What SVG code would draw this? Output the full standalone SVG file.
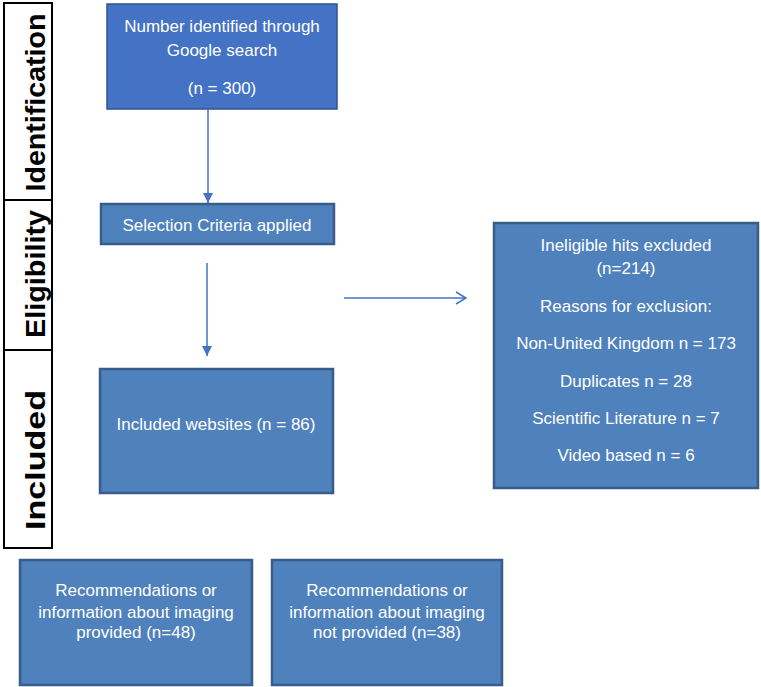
<svg xmlns="http://www.w3.org/2000/svg" width="761" height="687" viewBox="0 0 761 687">
<style>
.box{fill:#4F81BD;stroke:#385D8A;stroke-width:2.5}
.top{fill:#4472C4;stroke:#2F528F;stroke-width:1.5}
.t{font-family:"Liberation Sans",Arial,sans-serif;font-size:17px;fill:#FFFFFF;text-anchor:middle}
.side{fill:#FFFFFF;stroke:#000000;stroke-width:2}
.st{font-family:"Liberation Sans",Arial,sans-serif;font-size:28.5px;font-weight:bold;fill:#000000;text-anchor:middle}
.ln{stroke:#4472C4;stroke-width:1.5;fill:none}
</style>
<defs>
<marker id="tri" viewBox="0 0 10 10" refX="10" refY="5" markerWidth="10" markerHeight="10" markerUnits="userSpaceOnUse" orient="auto">
<path d="M0,0 L10,5 L0,10 Z" fill="#4472C4"/>
</marker>
<marker id="open" viewBox="0 0 12 14" refX="11" refY="7" markerWidth="12" markerHeight="14" markerUnits="userSpaceOnUse" orient="auto">
<path d="M1,1 L11,7 L1,13" fill="none" stroke="#4472C4" stroke-width="1.5"/>
</marker>
</defs>
<g id="stage-identification">
<rect class="side" x="4" y="3" width="48" height="197"/>
<text class="st" transform="translate(45,102.5) rotate(-90)" textLength="178" lengthAdjust="spacingAndGlyphs">Identification</text>
</g>
<g id="stage-eligibility">
<rect class="side" x="4" y="200" width="48" height="150"/>
<text class="st" transform="translate(45,274) rotate(-90)" textLength="128" lengthAdjust="spacingAndGlyphs">Eligibility</text>
</g>
<g id="stage-included">
<rect class="side" x="4" y="350" width="48" height="198"/>
<text class="st" transform="translate(45,460) rotate(-90)" textLength="140" lengthAdjust="spacingAndGlyphs">Included</text>
</g>
<g id="identified">
<rect class="top" x="107" y="4" width="230" height="105"/>
<text class="t" x="222" y="32">Number identified through</text>
<text class="t" x="222" y="56">Google search</text>
<text class="t" x="222" y="94">(n = 300)</text>
</g>
<g id="selection">
<rect class="box" x="101" y="204" width="233" height="40"/>
<text class="t" x="217" y="231">Selection Criteria applied</text>
</g>
<g id="included">
<rect class="box" x="100" y="369" width="233" height="124"/>
<text class="t" x="216" y="430">Included websites (n = 86)</text>
</g>
<g id="excluded">
<rect class="box" x="494" y="223" width="264" height="265"/>
<text class="t" x="626" y="251">Ineligible hits excluded</text>
<text class="t" x="626" y="274">(n=214)</text>
<text class="t" x="626" y="312">Reasons for exclusion:</text>
<text class="t" x="626" y="349">Non-United Kingdom n = 173</text>
<text class="t" x="626" y="387">Duplicates n = 28</text>
<text class="t" x="626" y="424">Scientific Literature n = 7</text>
<text class="t" x="626" y="461">Video based n = 6</text>
</g>
<g id="provided">
<rect class="box" x="20" y="560" width="232" height="125"/>
<text class="t" x="136" y="596">Recommendations or</text>
<text class="t" x="136" y="618">information about imaging</text>
<text class="t" x="136" y="638">provided (n=48)</text>
</g>
<g id="not-provided">
<rect class="box" x="272" y="560" width="230" height="125"/>
<text class="t" x="387" y="596">Recommendations or</text>
<text class="t" x="387" y="618">information about imaging</text>
<text class="t" x="387" y="638">not provided (n=38)</text>
</g>
<g id="connectors">
<line class="ln" x1="208" y1="110" x2="208" y2="203" marker-end="url(#tri)"/>
<line class="ln" x1="207" y1="263" x2="207" y2="356" marker-end="url(#tri)"/>
<line class="ln" x1="344" y1="298" x2="466" y2="298" marker-end="url(#open)"/>
</g>
</svg>
